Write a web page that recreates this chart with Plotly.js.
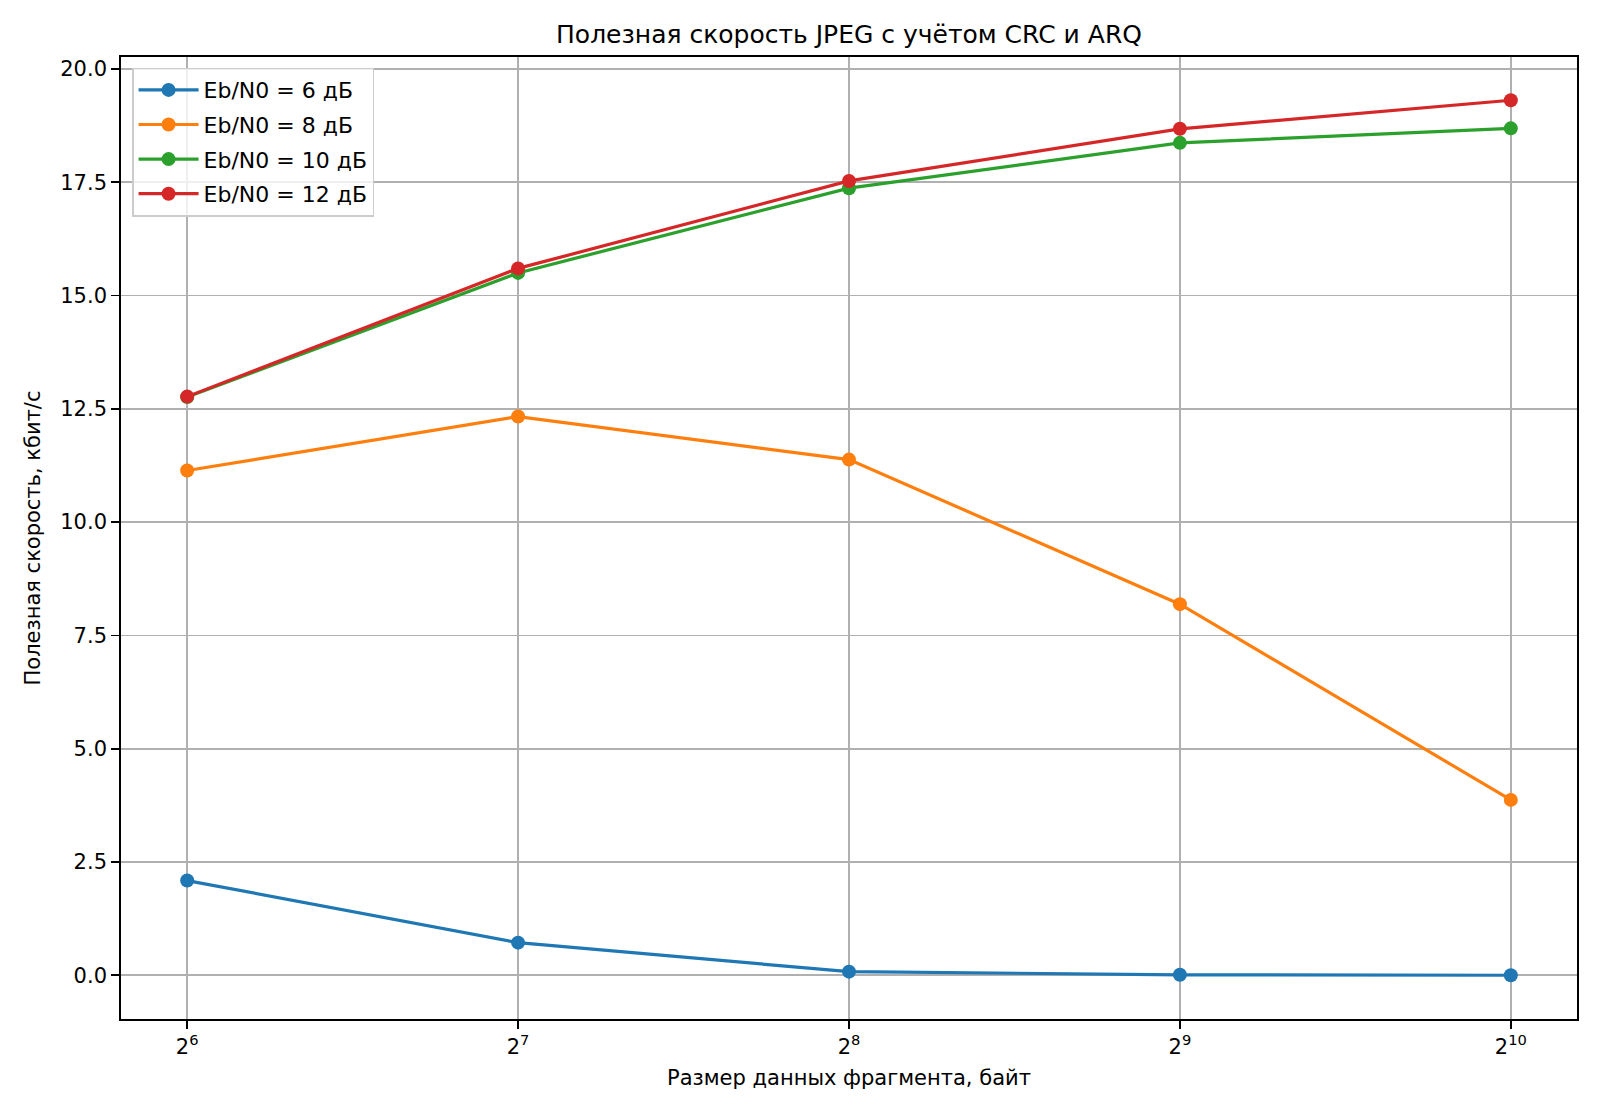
<!DOCTYPE html>
<html>
<head>
<meta charset="utf-8">
<script src="https://cdn.plot.ly/plotly-3.0.1.min.js"></script>
<style>
  body { margin: 0; background: #fff; }
  #graphDiv { width: 1600px; height: 1120px; }
</style>
</head>
<body>
<div id="graphDiv"></div>
<script>
'use strict';

// fragment sizes, bytes
const fragmentSizes = [64, 128, 256, 512, 1024];
const tickLabels = ["2<sup>6</sup>", "2<sup>7</sup>", "2<sup>8</sup>", "2<sup>9</sup>", "2<sup>10</sup>"];

// useful rate, kbit/s
const rate6dB = [2.09, 0.72, 0.08, 0.01, 0.0];
const rate8dB = [11.14, 12.33, 11.38, 8.19, 3.87];
const rate10dB = [12.76, 15.50, 17.37, 18.37, 18.69];
const rate12dB = [12.77, 15.60, 17.53, 18.68, 19.31];

const seriesNames = ["Eb/N0 = 6 дБ", "Eb/N0 = 8 дБ", "Eb/N0 = 10 дБ", "Eb/N0 = 12 дБ"];
const seriesColors = ["#1f77b4", "#ff7f0e", "#2ca02c", "#d62728"];

const fontFamily = "DejaVu Sans, sans-serif";

function makeTrace(values, i) {
  return {
    type: "scatter",
    mode: "lines+markers",
    x: fragmentSizes,
    y: values,
    name: seriesNames[i],
    legendgroup: "g" + i,
    line: { color: seriesColors[i], width: 3.2 },
    marker: { color: seriesColors[i], size: 14 },
    cliponaxis: false
  };
}

let traces = [rate6dB, rate8dB, rate10dB, rate12dB].map(makeTrace);

let axisCommon = {
  showline: true,
  mirror: true,
  linecolor: "#000",
  linewidth: 1.8,
  showgrid: true,
  gridcolor: "#b0b0b0",
  gridwidth: 1.6,
  zeroline: false,
  ticks: "outside",
  ticklen: 8,
  tickwidth: 1.8,
  tickcolor: "#000",
  tickfont: { family: fontFamily, size: 21, color: "#000" }
};

let layout = {
  width: 1600,
  height: 1120,
  paper_bgcolor: "#fff",
  plot_bgcolor: "#fff",
  margin: { l: 121, r: 23, t: 57, b: 101 },
  font: { family: fontFamily, color: "#000" },
  title: {
    text: "Полезная скорость JPEG с учётом CRC и ARQ",
    font: { family: fontFamily, size: 25, color: "#000" },
    x: 0.5, xref: "paper",
    y: 1 - 34 / 1120, yref: "container", yanchor: "middle"
  },
  xaxis: Object.assign({}, axisCommon, {
    type: "log",
    range: [Math.log10(Math.pow(2, 5.8)), Math.log10(Math.pow(2, 10.2))],
    tickvals: fragmentSizes,
    ticktext: tickLabels,
    title: { text: "Размер данных фрагмента, байт", font: { family: fontFamily, size: 21, color: "#000" }, standoff: 12 }
  }),
  yaxis: Object.assign({}, axisCommon, {
    range: [-0.965, 20.265],
    tick0: 0,
    dtick: 2.5,
    tickformat: ".1f",
    title: { text: "Полезная скорость, кбит/с", font: { family: fontFamily, size: 21, color: "#000" }, standoff: 14 }
  }),
  legend: {
    x: 0.0076, y: 0.989, xanchor: "left", yanchor: "top",
    bgcolor: "rgba(255,255,255,0.8)",
    bordercolor: "#cccccc",
    borderwidth: 1.5,
    font: { family: fontFamily, size: 22, color: "#000" },
    itemwidth: 60,
    tracegroupgap: 3
  },
  showlegend: true
};

Plotly.newPlot(graphDiv, traces, layout, { staticPlot: true });
</script>
</body>
</html>
